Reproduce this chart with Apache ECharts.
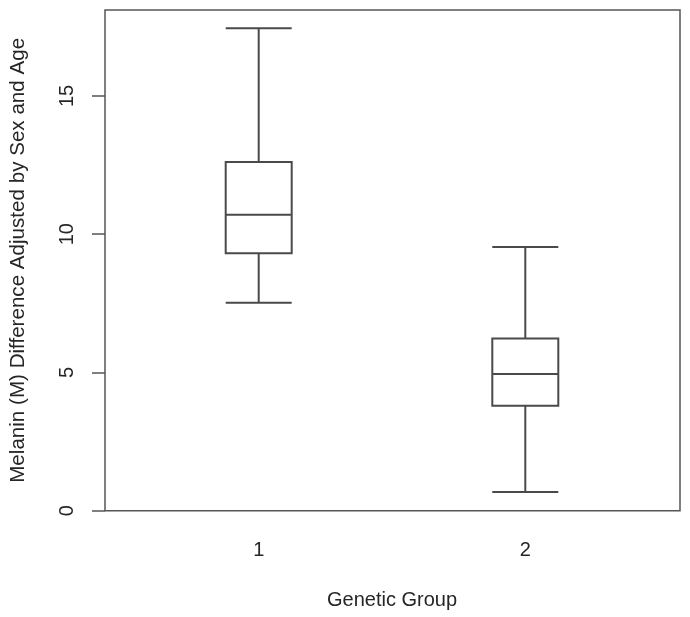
<!DOCTYPE html>
<html>
<head>
<meta charset="utf-8">
<script src="https://cdn.jsdelivr.net/npm/echarts@6/dist/echarts.min.js"></script>
<style>html,body{margin:0;padding:0;background:#fff}#c{width:690px;height:617px}</style>
</head>
<body>
<div id="c"></div>
<script>
// Data: [min, Q1, median, Q3, max]
const categories = ['1', '2'];
const group1 = [7.52, 9.31, 10.70, 12.61, 17.45];
const group2 = [0.68, 3.80, 4.94, 6.23, 9.54];
const yTicks = [0, 5, 10, 15];
const yMin = 0, yMax = 18.11;

const lineColor = '#4a4a4a';
const textColor = '#262626';
const font = 'Liberation Sans, Arial, sans-serif';

const chart = echarts.init(document.getElementById('c'));
chart.setOption({
  animation: false,
  backgroundColor: '#fff',
  grid: [
    { left: 105, right: 10, top: 10, bottom: 106.3, show: true, borderColor: '#555', borderWidth: 1.5, backgroundColor: 'transparent' },
    { left: 125.4, right: 31.4, top: 10, bottom: 106.3 }
  ],
  xAxis: [
    { type: 'value', gridIndex: 0, min: 0, max: 1, show: false },
    {
      type: 'category', gridIndex: 1, data: categories,
      axisLine: { show: false }, axisTick: { show: false },
      axisLabel: { color: textColor, fontSize: 20, fontFamily: font, margin: 30 },
      name: 'Genetic Group', nameLocation: 'middle', nameGap: 80,
      nameTextStyle: { color: textColor, fontSize: 20, fontFamily: font }
    }
  ],
  yAxis: [
    {
      type: 'value', gridIndex: 0, min: yMin, max: yMax,
      splitLine: { show: false },
      axisLine: { show: false },
      axisTick: { show: true, length: 13, customValues: yTicks, lineStyle: { color: '#555', width: 1.5 } },
      axisLabel: { rotate: 90, customValues: yTicks, color: textColor, fontSize: 20, fontFamily: font, margin: 28 },
      name: 'Melanin (M) Difference Adjusted by Sex and Age', nameLocation: 'middle', nameGap: 76, nameRotate: 90,
      nameTextStyle: { color: textColor, fontSize: 20.6, fontFamily: font }
    },
    { type: 'value', gridIndex: 1, min: yMin, max: yMax, show: false }
  ],
  series: [{
    type: 'boxplot',
    xAxisIndex: 1, yAxisIndex: 1,
    boxWidth: [66, 66],
    itemStyle: { color: '#fff', borderColor: lineColor, borderWidth: 2 },
    data: [group1, group2]
  }]
});
</script>
</body>
</html>
